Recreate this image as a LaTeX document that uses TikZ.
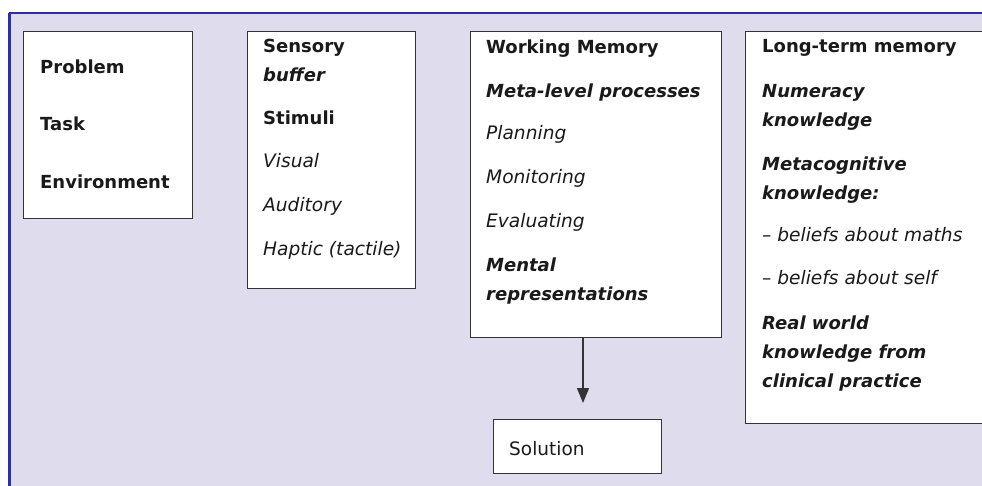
\documentclass[tikz,border=0pt]{standalone}
\usepackage{fontspec}
\setmainfont{DejaVu Sans}
\usetikzlibrary{arrows.meta}
\definecolor{bglav}{HTML}{DFDCEE}
\definecolor{frameblue}{HTML}{2E2F9C}
\definecolor{boxline}{HTML}{333333}
\definecolor{txt}{HTML}{1A1A1A}
\tikzset{
  x=1pt, y=-1pt,
  box/.style={draw=boxline, line width=1.4pt, fill=white, anchor=north west, inner sep=0pt},
  lbl/.style={anchor=base west, inner sep=0pt, text=txt, font=\fontsize{18.5}{22}\selectfont},
  hd/.style={lbl, font=\fontsize{18}{22}\selectfont\bfseries},
  bi/.style={lbl, font=\fontsize{18}{22}\selectfont\bfseries\itshape},
  it/.style={lbl, font=\fontsize{18.6}{22}\selectfont\itshape},
}
\begin{document}
\begin{tikzpicture}
\useasboundingbox (0,0) rectangle (982,486);
% background panel
\fill[bglav] (9,13) rectangle (990,490);
\draw[frameblue, line width=1.3pt] (9,13) -- (990,13);
\draw[frameblue, line width=2.6pt] (9.5,13) -- (9.5,490);

% boxes
\node[box, minimum width=169pt, minimum height=187pt] (b1) at (23,31) {};
\node[box, minimum width=168pt, minimum height=257pt] (b2) at (247,31) {};
\node[box, minimum width=251pt, minimum height=306pt] (b3) at (470,31) {};
\node[box, minimum width=260pt, minimum height=392pt] (b4) at (745,31) {};
\node[box, minimum width=168pt, minimum height=54pt] (b5) at (493,419) {};

% box 1
\node[hd] (t11) at (40,74) {Problem};
\node[hd] (t12) at (40,131) {Task};
\node[hd] (t13) at (40,189) {Environment};

% box 2
\node[hd] (t21) at (263,53) {Sensory};
\node[bi] (t22) at (263,82) {buffer};
\node[hd] (t23) at (263,125) {Stimuli};
\node[it] (t24) at (263,168) {Visual};
\node[it] (t25) at (263,212) {Auditory};
\node[it] (t26) at (263,255) {Haptic (tactile)};

% box 3
\node[hd] (t31) at (486,54) {Working Memory};
\node[bi] (t32) at (486,98) {Meta-level processes};
\node[it] (t33) at (486,140) {Planning};
\node[it] (t34) at (486,184) {Monitoring};
\node[it] (t35) at (486,228) {Evaluating};
\node[bi] (t36) at (486,272) {Mental};
\node[bi] (t37) at (486,300) {representations};

% box 4
\node[hd] (t41) at (762,53) {Long-term memory};
\node[bi] (t42) at (762,98) {Numeracy};
\node[bi] (t43) at (762,127) {knowledge};
\node[bi] (t44) at (762,171) {Metacognitive};
\node[bi] (t45) at (762,200) {knowledge:};
\node[it] (t46) at (762,242) {– beliefs about maths};
\node[it] (t47) at (762,284) {– beliefs about self};
\node[bi] (t48) at (762,329) {Real world};
\node[bi] (t49) at (762,358) {knowledge from};
\node[bi] (t410) at (762,387) {clinical practice};

% solution
\node[lbl] (t51) at (509,455) {Solution};

% arrow
\coordinate (tip) at (583,403);
\draw[boxline, line width=1.4pt, -{Triangle[length=15pt,width=12pt]}] (b3.south -| tip) -- (tip);
\end{tikzpicture}
\end{document}
